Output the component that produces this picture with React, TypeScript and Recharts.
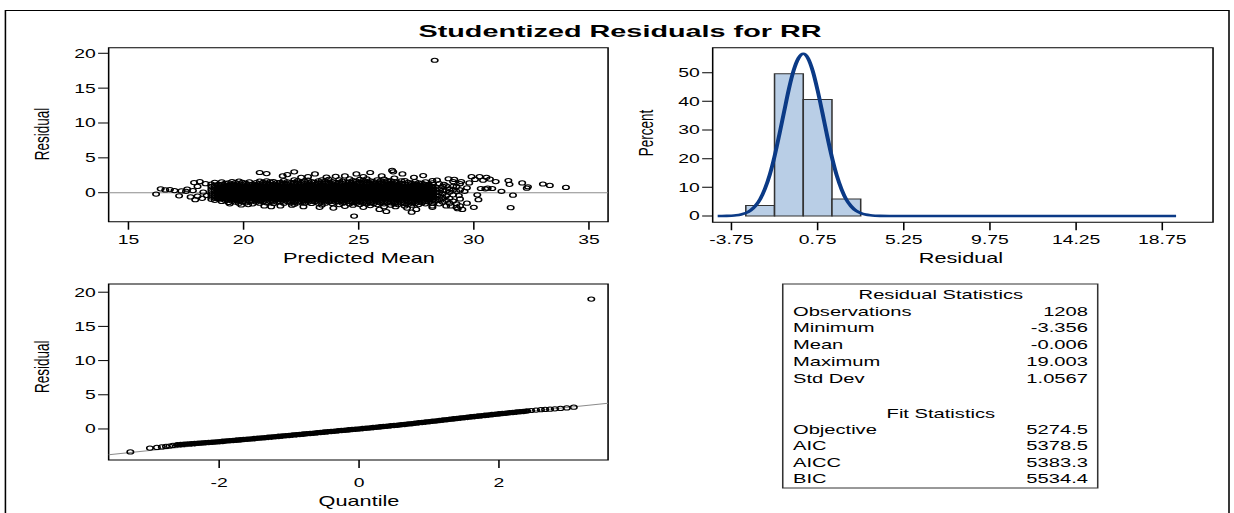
import React from "react";
import {
  ComposedChart,
  Line,
  ReferenceArea,
  ReferenceLine,
  Scatter,
  ScatterChart,
  XAxis,
  YAxis,
} from "recharts";

const FONT = "'Liberation Sans', Arial, sans-serif";
// the SAS panel was stretched sideways, so everything is drawn narrow and scaled in x
const STRETCH = 1.55;

// ---- residual vs predicted mean ----
const meanTicks = [15, 20, 25, 30, 35];
const residTicks = [0, 5, 10, 15, 20];
// dense part of the cloud, one row per predicted mean: [mean, residuals...]
const cloudRows: number[][] = [
  [18.6, -0.95, -0.6, -0.2, 0.15, 0.5, 0.9, 1.25],
  [18.75, -1.1, -0.75, -0.4, -0.05, 0.3, 0.7, 1.05, 1.5],
  [18.9, -0.9, -0.55, -0.2, 0.15, 0.5, 0.85, 1.2],
  [19.05, -1.25, -0.9, -0.55, -0.2, 0.15, 0.5, 0.85, 1.2, 1.55],
  [19.2, -1.1, -0.75, -0.4, -0.05, 0.3, 0.65, 1.0, 1.35],
  [19.35, -1.4, -1.05, -0.7, -0.35, 0.0, 0.35, 0.7, 1.05, 1.4],
  [19.5, -1.2, -0.85, -0.5, -0.15, 0.2, 0.55, 0.9, 1.25, 1.6],
  [19.65, -1.35, -1.0, -0.65, -0.3, 0.05, 0.4, 0.75, 1.1, 1.45],
  [19.8, -1.5, -1.15, -0.8, -0.45, -0.1, 0.25, 0.6, 0.95, 1.3, 1.65],
  [19.95, -1.3, -0.95, -0.6, -0.25, 0.1, 0.45, 0.8, 1.15, 1.5],
  [20.1, -1.45, -1.1, -0.75, -0.4, -0.05, 0.3, 0.65, 1.0, 1.35],
  [20.25, -1.25, -0.9, -0.55, -0.2, 0.15, 0.5, 0.85, 1.2, 1.55],
  [20.4, -1.6, -1.2, -0.85, -0.5, -0.15, 0.2, 0.55, 0.9, 1.25],
  [20.55, -1.35, -1.0, -0.65, -0.3, 0.05, 0.4, 0.75, 1.1, 1.45],
  [20.7, -1.5, -1.15, -0.8, -0.45, -0.1, 0.25, 0.6, 0.95, 1.3, 1.65],
  [20.85, -1.3, -0.95, -0.6, -0.25, 0.1, 0.45, 0.8, 1.15, 1.5],
  [21.0, -1.45, -1.1, -0.75, -0.4, -0.05, 0.3, 0.65, 1.0, 1.35, 1.7],
  [21.15, -1.25, -0.9, -0.55, -0.2, 0.15, 0.5, 0.85, 1.2, 1.55],
  [21.3, -1.55, -1.2, -0.85, -0.5, -0.15, 0.2, 0.55, 0.9, 1.25, 1.6],
  [21.45, -1.35, -1.0, -0.65, -0.3, 0.05, 0.4, 0.75, 1.1, 1.45],
  [21.6, -1.3, -0.95, -0.6, -0.25, 0.1, 0.45, 0.8, 1.15, 1.5],
  [21.75, -1.5, -1.1, -0.75, -0.4, -0.05, 0.3, 0.65, 1.0, 1.35, 1.75],
  [21.9, -1.25, -0.9, -0.55, -0.2, 0.15, 0.5, 0.85, 1.2, 1.55],
  [22.05, -1.45, -1.1, -0.75, -0.4, -0.05, 0.3, 0.65, 1.0, 1.4],
  [22.2, -1.65, -1.3, -0.95, -0.6, -0.25, 0.1, 0.45, 0.8, 1.15, 1.5, 1.85],
  [22.35, -1.45, -1.1, -0.75, -0.4, -0.05, 0.3, 0.65, 1.0, 1.35, 1.7],
  [22.5, -1.3, -0.95, -0.6, -0.25, 0.1, 0.45, 0.8, 1.15, 1.5],
  [22.65, -1.5, -1.15, -0.8, -0.45, -0.1, 0.25, 0.6, 0.95, 1.3, 1.65],
  [22.8, -1.35, -1.0, -0.65, -0.3, 0.05, 0.4, 0.75, 1.1, 1.45, 1.8],
  [22.95, -1.55, -1.2, -0.85, -0.5, -0.15, 0.2, 0.55, 0.9, 1.25, 1.6],
  [23.1, -1.3, -0.95, -0.6, -0.25, 0.1, 0.45, 0.8, 1.15, 1.5],
  [23.25, -1.5, -1.1, -0.75, -0.4, -0.05, 0.3, 0.65, 1.0, 1.35, 1.7],
  [23.4, -1.75, -1.35, -1.0, -0.65, -0.3, 0.05, 0.4, 0.75, 1.1, 1.45, 1.85],
  [23.55, -1.5, -1.15, -0.8, -0.45, -0.1, 0.25, 0.6, 0.95, 1.3, 1.65],
  [23.7, -1.3, -0.95, -0.6, -0.25, 0.1, 0.45, 0.8, 1.15, 1.5, 1.9],
  [23.85, -1.55, -1.2, -0.85, -0.5, -0.15, 0.2, 0.55, 0.9, 1.25, 1.6],
  [24.0, -1.35, -1.0, -0.65, -0.3, 0.05, 0.4, 0.75, 1.1, 1.45],
  [24.15, -1.7, -1.3, -0.95, -0.6, -0.25, 0.1, 0.45, 0.8, 1.15, 1.5, 1.85],
  [24.3, -1.5, -1.15, -0.8, -0.45, -0.1, 0.25, 0.6, 0.95, 1.3, 1.65],
  [24.45, -1.35, -1.0, -0.65, -0.3, 0.05, 0.4, 0.75, 1.1, 1.45],
  [24.6, -1.6, -1.25, -0.9, -0.55, -0.2, 0.15, 0.5, 0.85, 1.2, 1.55, 2.0],
  [24.75, -1.8, -1.4, -1.05, -0.7, -0.35, 0.0, 0.35, 0.7, 1.05, 1.4, 1.75],
  [24.9, -1.5, -1.15, -0.8, -0.45, -0.1, 0.25, 0.6, 0.95, 1.3, 1.65],
  [25.05, -1.7, -1.3, -0.95, -0.6, -0.25, 0.1, 0.45, 0.8, 1.15, 1.5, 1.9],
  [25.2, -1.45, -1.1, -0.75, -0.4, -0.05, 0.3, 0.65, 1.0, 1.35, 1.7],
  [25.35, -1.6, -1.25, -0.9, -0.55, -0.2, 0.15, 0.5, 0.85, 1.2, 1.55, 2.0],
  [25.5, -1.85, -1.45, -1.1, -0.75, -0.4, -0.05, 0.3, 0.65, 1.0, 1.35, 1.7],
  [25.65, -1.55, -1.2, -0.85, -0.5, -0.15, 0.2, 0.55, 0.9, 1.25, 1.6],
  [25.8, -1.7, -1.35, -1.0, -0.65, -0.3, 0.05, 0.4, 0.75, 1.1, 1.45, 1.85],
  [25.95, -1.45, -1.1, -0.75, -0.4, -0.05, 0.3, 0.65, 1.0, 1.35, 1.7],
  [26.1, -2.0, -1.6, -1.25, -0.9, -0.55, -0.2, 0.15, 0.5, 0.85, 1.2, 1.55, 1.95],
  [26.25, -1.4, -1.05, -0.7, -0.35, 0.0, 0.35, 0.7, 1.05, 1.4, 1.75],
  [26.4, -1.8, -1.45, -1.1, -0.75, -0.4, -0.05, 0.3, 0.65, 1.0, 1.35, 1.7],
  [26.55, -1.55, -1.2, -0.85, -0.5, -0.15, 0.2, 0.55, 0.9, 1.25, 1.6, 2.1],
  [26.7, -1.7, -1.35, -1.0, -0.65, -0.3, 0.05, 0.4, 0.75, 1.1, 1.45],
  [26.85, -1.45, -1.1, -0.75, -0.4, -0.05, 0.3, 0.65, 1.0, 1.35, 1.7],
  [27.0, -1.9, -1.55, -1.2, -0.85, -0.5, -0.15, 0.2, 0.55, 0.9, 1.25, 1.75],
  [27.15, -1.65, -1.3, -0.95, -0.6, -0.25, 0.1, 0.45, 0.8, 1.15, 1.5],
  [27.3, -1.8, -1.45, -1.1, -0.75, -0.4, -0.05, 0.3, 0.65, 1.0, 1.35],
  [27.45, -1.55, -1.2, -0.85, -0.5, -0.15, 0.2, 0.55, 0.9, 1.25, 1.6],
  [27.6, -1.7, -1.35, -1.0, -0.65, -0.3, 0.05, 0.4, 0.75, 1.1, 1.4],
  [27.75, -1.45, -1.1, -0.75, -0.4, -0.05, 0.3, 0.65, 1.0, 1.35],
  [27.9, -1.6, -1.25, -0.9, -0.55, -0.2, 0.15, 0.5, 0.85, 1.2, 1.55],
  [28.05, -1.35, -1.0, -0.65, -0.3, 0.05, 0.4, 0.75, 1.1],
  [28.2, -1.9, -1.5, -1.1, -0.7, -0.3, 0.1, 0.5, 0.9, 1.4, 1.75],
  [28.35, -1.2, -0.8, -0.4, 0.0, 0.4, 0.8],
  [28.5, -1.6, -1.0, -0.5, 0.05, 0.55, 1.3],
  [28.65, -1.35, -0.75, -0.15, 0.35, 0.9],
  [28.8, -1.9, -1.1, -0.45, 0.25, 1.0],
  [28.95, -1.5, -0.8, 0.1, 0.55],
  [29.1, -1.2, -0.3, 0.4, 1.6],
  [29.25, -2.1, -1.6, 0.2, 0.9],
  [29.4, -1.9, -0.9, 0.4, 1.3],
];
// scattered points around the edges of the cloud: [mean, residual]
const loosePoints: number[][] = [
  [16.2, -0.2], [16.4, 0.55], [16.6, 0.4], [16.8, 0.45], [17.0, 0.3],
  [17.2, -0.45], [17.3, 0.25], [17.5, 0.2], [17.55, 0.5], [17.7, -0.6],
  [17.8, 0.3], [17.85, 1.45], [17.9, -1.0], [18.0, 0.9], [18.0, -0.5],
  [18.1, 1.6], [18.2, -0.8], [18.25, 0.1], [18.35, 1.3], [18.4, -0.4],
  [20.7, 2.9], [21.0, 2.75], [21.7, 2.4], [21.9, 2.6], [22.2, 3.0],
  [22.5, 2.2], [22.8, 2.3], [23.1, 2.7], [23.6, 2.25], [24.0, 2.35],
  [24.4, 2.4], [24.9, 2.7], [25.2, 2.3], [25.5, 2.9], [26.0, 2.4],
  [26.45, 3.2], [26.5, 3.0], [26.9, 2.7], [27.4, 2.2], [27.8, 2.45],
  [19.4, -1.6], [19.9, -1.75], [20.2, -1.7], [20.9, -1.9], [21.2, -2.0],
  [21.6, -1.9], [22.1, -1.8], [22.6, -2.0], [23.3, -2.1], [23.9, -2.2],
  [24.4, -1.95], [24.8, -3.35], [25.2, -2.1], [25.9, -2.4], [26.2, -2.7],
  [26.6, -2.0], [27.1, -2.2], [27.3, -2.8], [27.5, -2.4], [28.2, -2.1],
  [28.4, 1.8], [28.7, 1.2], [28.9, 2.0], [29.0, -1.9], [29.1, 0.9],
  [29.15, 1.9], [29.3, -2.3], [29.35, -0.4], [29.45, 1.6], [29.5, -2.4],
  [29.6, 0.2], [29.7, -1.5], [29.7, 0.7], [29.8, 1.4], [29.9, 2.3],
  [30.0, -2.1], [30.05, 1.9], [30.15, -0.3], [30.2, -1.0], [30.25, 2.3],
  [30.3, 0.6], [30.4, 1.8], [30.5, 0.55], [30.55, 2.2], [30.6, 0.65],
  [30.7, 1.95], [30.8, 0.6], [30.95, 1.6], [31.2, 0.2], [31.5, 1.75],
  [31.55, 1.2], [31.6, -2.15], [31.7, -0.35], [32.1, 1.4], [32.3, 0.65],
  [32.35, 0.85], [33.0, 1.25], [33.3, 1.05], [34.0, 0.75],
  [28.3, 19.0],
];

// ---- histogram ----
const binMid = [-2.25, -0.75, 0.75, 2.25];
const binPercent = [3.7, 49.6, 40.6, 5.9];
const binWidth = 1.5;
const histTicks = [-3.75, 0.75, 5.25, 9.75, 14.25, 18.75];
const pctTicks = [0, 10, 20, 30, 40, 50];
const curveX = [
  -4.47, -4.25, -4.0, -3.75, -3.5, -3.25, -3.0, -2.75, -2.5, -2.25, -2.0,
  -1.75, -1.5, -1.25, -1.0, -0.75, -0.5, -0.25, 0, 0.25, 0.5, 0.75, 1.0,
  1.25, 1.5, 1.75, 2.0, 2.25, 2.5, 2.75, 3.0, 3.25, 3.5, 3.75, 4.0, 4.5,
  19.47,
];
const curveY = [
  0, 0, 0.03, 0.1, 0.25, 0.55, 1.05, 1.95, 3.5, 5.9, 9.5, 14.4, 20.8, 28.4,
  36.4, 44.3, 50.8, 55.0, 56.6, 55.0, 50.5, 43.8, 36.0, 27.9, 20.4, 14.1, 9.3,
  5.7, 3.4, 1.85, 1.0, 0.5, 0.23, 0.1, 0.04, 0, 0,
];

// ---- normal quantile plot: [quantile, residual] ----
// the separate points at both ends
const qqTailPairs: number[][] = [
  [-3.27, -3.36], [-2.99, -2.8], [-2.89, -2.7], [-2.82, -2.63], [-2.76, -2.55],
  [-2.71, -2.49], [-2.66, -2.41],
  [2.46, 2.7], [2.53, 2.76], [2.6, 2.82], [2.66, 2.86], [2.73, 2.9],
  [2.8, 2.95], [2.88, 3.0], [2.97, 3.08], [3.07, 3.18], [3.32, 19.0],
];
// the solid band of overlapping points in the middle
const qqBandPairs: number[][] = [
  [-2.6, -2.33], [-2.55, -2.29], [-2.5, -2.25], [-2.45, -2.21], [-2.4, -2.18],
  [-2.35, -2.14], [-2.3, -2.1], [-2.25, -2.06], [-2.2, -2.02], [-2.15, -1.98],
  [-2.1, -1.94], [-2.05, -1.9], [-2.0, -1.86], [-1.95, -1.82], [-1.9, -1.77],
  [-1.85, -1.73], [-1.8, -1.68], [-1.75, -1.64], [-1.7, -1.6], [-1.65, -1.55],
  [-1.6, -1.51], [-1.55, -1.46], [-1.5, -1.42], [-1.45, -1.37], [-1.4, -1.33],
  [-1.35, -1.28], [-1.3, -1.23], [-1.25, -1.19], [-1.2, -1.14], [-1.15, -1.09],
  [-1.1, -1.05], [-1.05, -1.0], [-1.0, -0.95], [-0.95, -0.9], [-0.9, -0.86],
  [-0.85, -0.81], [-0.8, -0.76], [-0.75, -0.71], [-0.7, -0.66], [-0.65, -0.62],
  [-0.6, -0.57], [-0.55, -0.52], [-0.5, -0.47], [-0.45, -0.42], [-0.4, -0.38],
  [-0.35, -0.33], [-0.3, -0.28], [-0.25, -0.23], [-0.2, -0.19], [-0.15, -0.14],
  [-0.1, -0.09], [-0.05, -0.05], [0.0, 0.0], [0.05, 0.05], [0.1, 0.1],
  [0.15, 0.15], [0.2, 0.2], [0.25, 0.25], [0.3, 0.3], [0.35, 0.35],
  [0.4, 0.4], [0.45, 0.45], [0.5, 0.5], [0.55, 0.55], [0.6, 0.61],
  [0.65, 0.66], [0.7, 0.72], [0.75, 0.77], [0.8, 0.83], [0.85, 0.89],
  [0.9, 0.94], [0.95, 1.0], [1.0, 1.06], [1.05, 1.12], [1.1, 1.17],
  [1.15, 1.23], [1.2, 1.29], [1.25, 1.35], [1.3, 1.41], [1.35, 1.47],
  [1.4, 1.53], [1.45, 1.59], [1.5, 1.64], [1.55, 1.7], [1.6, 1.76],
  [1.65, 1.81], [1.7, 1.87], [1.75, 1.92], [1.8, 1.98], [1.85, 2.03],
  [1.9, 2.09], [1.95, 2.14], [2.0, 2.2], [2.05, 2.25], [2.1, 2.3],
  [2.15, 2.36], [2.2, 2.41], [2.25, 2.46], [2.3, 2.51], [2.35, 2.56],
  [2.4, 2.62],
];
const qqLineQ = [-3.58, 3.56];
const qqLineR = [-3.77, 3.76];
const quantTicks = [-2, 0, 2];

// ---- statistics box ----
const residStatLabels = ["Observations", "Minimum", "Mean", "Maximum", "Std Dev"];
const residStatValues = ["1208", "-3.356", "-0.006", "19.003", "1.0567"];
const fitStatLabels = ["Objective", "AIC", "AICC", "BIC"];
const fitStatValues = ["5274.5", "5378.5", "5383.3", "5534.4"];

const cloudAll = [
  ...cloudRows.flatMap(([m, ...rs]) => rs.map((r) => ({ x: m, y: r }))),
  ...loosePoints.map(([m, r]) => ({ x: m, y: r })),
];
// the middle of the cloud, where the circles pile up into solid black
const inCore = (p: { x: number; y: number }) =>
  p.x >= 18.8 && p.x <= 28.2 && p.y >= -1.0 && p.y <= 1.1;
const cloudCore = cloudAll.filter(inCore);
const cloudEdge = cloudAll.filter((p) => !inCore(p));
const curveData = curveX.map((x, i) => ({ x, y: curveY[i] }));
const qqTail = qqTailPairs.map(([q, r]) => ({ x: q, y: r }));
const qqBand = qqBandPairs.map(([q, r]) => ({ x: q, y: r }));

const Ring = (p: any) => (
  <circle cx={p.cx} cy={p.cy} r={2.1} fill="none" stroke="#000" strokeWidth={1} />
);
// where the points pile up they merge into one black mass
const BandRing = (p: any) => (
  <circle cx={p.cx} cy={p.cy} r={1.8} fill="none" stroke="#000" strokeWidth={2} />
);

const tickText = { fill: "#000", fontSize: 12.5, fontFamily: FONT };
const tickLine = { stroke: "#000" };

export default function App() {
  return (
    <div
      style={{
        position: "absolute",
        left: 0,
        top: 0,
        width: 1234,
        height: 513,
        overflow: "hidden",
        background: "#fff",
      }}
    >
      <div
        style={{
          position: "absolute",
          left: 0,
          top: 0,
          width: 796,
          height: 513,
          transform: `scaleX(${STRETCH})`,
          transformOrigin: "0 0",
        }}
      >
        {/* residual vs predicted mean */}
        <div style={{ position: "absolute", left: 0, top: 40 }}>
          <ScatterChart
            width={400}
            height={240}
            margin={{ top: 7.7, right: 7.7, bottom: 18.3, left: 25.1 }}
          >
            <XAxis
              type="number"
              dataKey="x"
              domain={[14.14, 35.83]}
              ticks={meanTicks}
              allowDataOverflow
              axisLine={false}
              tickLine={tickLine}
              tickSize={8}
              tickMargin={5.3}
              height={40}
              tick={tickText}
              interval={0}
            />
            <YAxis
              type="number"
              dataKey="y"
              domain={[-4.16, 20.8]}
              ticks={residTicks}
              allowDataOverflow
              axisLine={false}
              tickLine={tickLine}
              tickSize={6.8}
              tickMargin={1.5}
              width={45}
              tick={tickText}
              interval={0}
            />
            <ReferenceArea x1={14.14} x2={35.83} y1={-4.16} y2={20.8} fill="none" stroke="#000" />
            <ReferenceLine y={0} stroke="#8c8c8c" />
            <Scatter data={cloudEdge} shape={Ring} isAnimationActive={false} />
            <Scatter data={cloudCore} shape={BandRing} isAnimationActive={false} />
          </ScatterChart>
        </div>

        {/* histogram with normal curve */}
        <div style={{ position: "absolute", left: 400, top: 40 }}>
          <ComposedChart
            width={396}
            height={240}
            data={curveData}
            margin={{ top: 7.7, right: 13.4, bottom: 17.7, left: 14.8 }}
          >
            <XAxis
              type="number"
              dataKey="x"
              domain={[-4.73, 21.4]}
              ticks={histTicks}
              allowDataOverflow
              axisLine={false}
              tickLine={tickLine}
              tickSize={8}
              tickMargin={5.3}
              height={40}
              tick={tickText}
              interval={0}
            />
            <YAxis
              type="number"
              domain={[-2.2, 58.7]}
              ticks={pctTicks}
              allowDataOverflow
              axisLine={false}
              tickLine={tickLine}
              tickSize={6.8}
              tickMargin={1.5}
              width={45}
              tick={tickText}
              interval={0}
            />
            {binMid.map((m, i) => (
              <ReferenceArea
                key={m}
                x1={m - binWidth / 2}
                x2={m + binWidth / 2}
                y1={0}
                y2={binPercent[i]}
                fill="#b9cee6"
                fillOpacity={1}
                stroke="#333"
              />
            ))}
            <ReferenceArea x1={-4.73} x2={21.4} y1={-2.2} y2={58.7} fill="none" stroke="#000" />
            <Line
              dataKey="y"
              type="monotone"
              dot={false}
              stroke="#0b3a86"
              strokeWidth={2.6}
              isAnimationActive={false}
            />
          </ComposedChart>
        </div>

        {/* normal quantile plot */}
        <div style={{ position: "absolute", left: 0, top: 276 }}>
          <ScatterChart
            width={400}
            height={237}
            margin={{ top: 8, right: 7.7, bottom: 13, left: 25.1 }}
          >
            <XAxis
              type="number"
              dataKey="x"
              domain={[-3.58, 3.56]}
              ticks={quantTicks}
              allowDataOverflow
              axisLine={false}
              tickLine={tickLine}
              tickSize={8}
              tickMargin={10.3}
              height={40}
              tick={tickText}
              interval={0}
            />
            <YAxis
              type="number"
              dataKey="y"
              domain={[-4.54, 21.2]}
              ticks={residTicks}
              allowDataOverflow
              axisLine={false}
              tickLine={tickLine}
              tickSize={6.8}
              tickMargin={1.5}
              width={45}
              tick={tickText}
              interval={0}
            />
            <ReferenceArea x1={-3.58} x2={3.56} y1={-4.54} y2={21.2} fill="none" stroke="#000" />
            <ReferenceLine
              segment={[
                { x: qqLineQ[0], y: qqLineR[0] },
                { x: qqLineQ[1], y: qqLineR[1] },
              ]}
              stroke="#8c8c8c"
            />
            <Scatter data={qqBand} shape={BandRing} isAnimationActive={false} />
            <Scatter data={qqTail} shape={Ring} isAnimationActive={false} />
          </ScatterChart>
        </div>

        {/* frame, titles and statistics box */}
        <svg
          width={796}
          height={513}
          style={{ position: "absolute", left: 0, top: 0, pointerEvents: "none" }}
          fontFamily={FONT}
        >
          <rect x={3.5} y={10.5} width={789.4} height={520} fill="none" stroke="#000" />
          <text
            x={400}
            y={37}
            textAnchor="middle"
            fontSize={16}
            fontWeight="bold"
            textLength={260}
            lengthAdjust="spacingAndGlyphs"
          >
            Studentized Residuals for RR
          </text>
          <text x={231.6} y={263} textAnchor="middle" fontSize={14}>
            Predicted Mean
          </text>
          <text x={620} y={263} textAnchor="middle" fontSize={14}>
            Residual
          </text>
          <text x={231.6} y={506} textAnchor="middle" fontSize={14}>
            Quantile
          </text>
          <text transform="translate(31.8,134) rotate(-90)" textAnchor="middle" fontSize={13.5}>
            Residual
          </text>
          <text transform="translate(421.3,133) rotate(-90)" textAnchor="middle" fontSize={13.5}>
            Percent
          </text>
          <text transform="translate(31.8,366.7) rotate(-90)" textAnchor="middle" fontSize={13.5}>
            Residual
          </text>

          <rect x={505} y={284} width={203.2} height={204} fill="none" stroke="#333" />
          <text x={607} y={298.6} textAnchor="middle" fontSize={13}>
            Residual Statistics
          </text>
          {residStatLabels.map((label, i) => (
            <g key={label}>
              <text x={511.6} y={315.6 + i * 16.8} fontSize={13}>
                {label}
              </text>
              <text x={701.9} y={315.6 + i * 16.8} textAnchor="end" fontSize={13}>
                {residStatValues[i]}
              </text>
            </g>
          ))}
          <text x={607} y={417.6} textAnchor="middle" fontSize={13}>
            Fit Statistics
          </text>
          {fitStatLabels.map((label, i) => (
            <g key={label}>
              <text x={511.6} y={433.6 + i * 16.6} fontSize={13}>
                {label}
              </text>
              <text x={701.9} y={433.6 + i * 16.6} textAnchor="end" fontSize={13}>
                {fitStatValues[i]}
              </text>
            </g>
          ))}
        </svg>
      </div>
    </div>
  );
}
